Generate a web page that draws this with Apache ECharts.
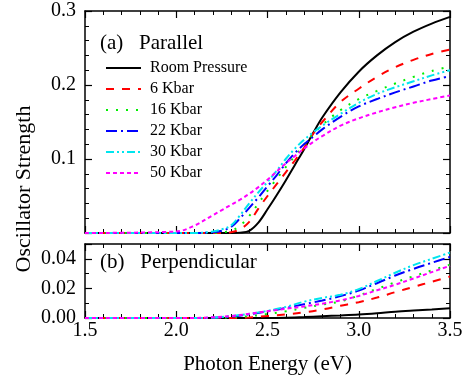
<!DOCTYPE html>
<html>
<head>
<meta charset="utf-8">
<script src="https://cdn.jsdelivr.net/npm/echarts@6/dist/echarts.min.js"></script>
<style>
  html, body { margin: 0; padding: 0; background: #fff; }
  #chart { width: 471px; height: 383px; }
</style>
</head>
<body>
<div id="chart"></div>
<script>
// photon energy grids (eV)
const energyTop = [1.5, 2.0, 2.1, 2.2, 2.25, 2.3, 2.35, 2.4, 2.45, 2.5, 2.55, 2.6, 2.65, 2.7, 2.75, 2.8, 2.9, 3.0, 3.1, 3.2, 3.3, 3.4, 3.5];
const energyBot = [1.5, 2.0, 2.1, 2.2, 2.3, 2.4, 2.5, 2.6, 2.7, 2.8, 2.9, 3.0, 3.1, 3.2, 3.3, 3.4, 3.5];

const seriesNames = ['Room Pressure', '6 Kbar', '16 Kbar', '22 Kbar', '30 Kbar', '50 Kbar'];

// (a) parallel
const parRoom = [0, 0, 0, 0, 0, 0, 0.0005, 0.003, 0.014, 0.032, 0.051, 0.071, 0.092, 0.113, 0.135, 0.156, 0.190, 0.218, 0.240, 0.258, 0.272, 0.283, 0.292];
const par6 = [0, 0, 0, 0, 0, 0.001, 0.005, 0.015, 0.033, 0.050, 0.066, 0.082, 0.098, 0.115, 0.134, 0.150, 0.177, 0.195, 0.211, 0.224, 0.234, 0.242, 0.248];
const par16 = [0, 0, 0, 0, 0.001, 0.003, 0.010, 0.023, 0.040, 0.057, 0.073, 0.089, 0.104, 0.119, 0.133, 0.146, 0.166, 0.181, 0.192, 0.202, 0.211, 0.219, 0.225];
const par22 = [0, 0, 0, 0.001, 0.003, 0.008, 0.020, 0.034, 0.048, 0.063, 0.078, 0.094, 0.108, 0.120, 0.130, 0.140, 0.157, 0.171, 0.181, 0.190, 0.198, 0.206, 0.212];
const par30 = [0, 0, 0, 0.002, 0.005, 0.010, 0.024, 0.040, 0.055, 0.069, 0.084, 0.100, 0.114, 0.126, 0.136, 0.145, 0.161, 0.176, 0.188, 0.197, 0.205, 0.213, 0.220];
const par50 = [0, 0.002, 0.010, 0.024, 0.031, 0.038, 0.045, 0.053, 0.062, 0.072, 0.083, 0.094, 0.104, 0.114, 0.123, 0.131, 0.145, 0.155, 0.163, 0.170, 0.176, 0.181, 0.186];

// (b) perpendicular
const perRoom = [0, 0, 0, 0, 0, 0, 0, 0.0002, 0.0006, 0.0012, 0.0017, 0.0023, 0.0032, 0.0043, 0.0051, 0.0058, 0.0066];
const per6 = [0, 0, 0, 0, 0, 0.0004, 0.0013, 0.0024, 0.0038, 0.0058, 0.0083, 0.0107, 0.0138, 0.0175, 0.0210, 0.0245, 0.0280];
const per16 = [0, 0, 0, 0, 0.0004, 0.0012, 0.0027, 0.0045, 0.0068, 0.0090, 0.0112, 0.0152, 0.0197, 0.0241, 0.0282, 0.0322, 0.0360];
const per22 = [0, 0, 0, 0.0002, 0.0010, 0.0025, 0.0045, 0.0068, 0.0093, 0.0118, 0.0148, 0.0185, 0.0235, 0.0287, 0.0332, 0.0373, 0.0413];
const per30 = [0, 0, 0, 0.0003, 0.0013, 0.0028, 0.0048, 0.0075, 0.0110, 0.0136, 0.0157, 0.0195, 0.0250, 0.0306, 0.0357, 0.0400, 0.0442];
const per50 = [0, 0, 0, 0.0005, 0.0013, 0.0028, 0.0046, 0.0062, 0.0078, 0.0097, 0.0119, 0.0149, 0.0187, 0.0225, 0.0267, 0.0310, 0.0353];

const colors = ['#000000', '#ff0000', '#00ee00', '#0000ff', '#00e5ee', '#ff00ff'];
const dashes = ['solid', [8, 8], [2, 8], [11, 4, 2, 4], [8, 3, 2, 3, 2, 3], [4, 3]];

const chart = echarts.init(document.getElementById('chart'));
const FONT = 'Liberation Serif';

function xAxisFor(gridIndex, position, showLabel, name) {
    return {
        type: 'value', gridIndex: gridIndex, position: position,
        min: 1.5, max: 3.5, interval: 0.5,
        name: name || '', nameLocation: 'middle', nameGap: 36,
        nameTextStyle: { fontFamily: FONT, fontSize: 21, color: '#000' },
        axisLine: { onZero: false, lineStyle: { color: '#000', width: 1.5 } },
        axisTick: { inside: true, length: 7, lineStyle: { color: '#000', width: 1.2 } },
        minorTick: { show: true, splitNumber: 5, length: 4, lineStyle: { color: '#000', width: 1 } },
        splitLine: { show: false },
        axisLabel: { show: showLabel, margin: 3, fontFamily: FONT, fontSize: 20, color: '#000',
            formatter: (v) => v.toFixed(1) }
    };
}

function yAxisFor(gridIndex, position, showLabel, max, interval, minor, digits) {
    return {
        type: 'value', gridIndex: gridIndex, position: position,
        min: 0, max: max, interval: interval,
        axisLine: { onZero: false, lineStyle: { color: '#000', width: 1.5 } },
        axisTick: { inside: true, length: 7, lineStyle: { color: '#000', width: 1.2 } },
        minorTick: { show: true, splitNumber: minor, length: 4, lineStyle: { color: '#000', width: 1 } },
        splitLine: { show: false },
        axisLabel: { show: showLabel, margin: 9, fontFamily: FONT, fontSize: 20, color: '#000',
            showMinLabel: digits === 2, showMaxLabel: digits === 1,
            formatter: (v) => v.toFixed(digits) }
    };
}

const parData = [parRoom, par6, par16, par22, par30, par50];
const perData = [perRoom, per6, per16, per22, per30, per50];

const series = [];
seriesNames.forEach((name, k) => {
    const common = {
        type: 'line', name: name, showSymbol: false, symbol: 'none',
        smooth: 0.35,
        itemStyle: { color: colors[k] },
        lineStyle: { color: colors[k], width: 2, type: dashes[k] }
    };
    series.push(Object.assign({}, common, {
        xAxisIndex: 0, yAxisIndex: 0,
        data: energyTop.map((e, i) => [e, parData[k][i]])
    }));
    series.push(Object.assign({}, common, {
        xAxisIndex: 1, yAxisIndex: 1,
        data: energyBot.map((e, i) => [e, perData[k][i]])
    }));
});

chart.setOption({
    animation: false,
    backgroundColor: '#fff',
    grid: [
        { left: 85, right: 21, top: 11, height: 222 },
        { left: 85, right: 21, top: 244, height: 74 }
    ],
    xAxis: [
        xAxisFor(0, 'bottom', false),
        xAxisFor(1, 'bottom', true, 'Photon Energy (eV)'),
        xAxisFor(0, 'top', false),
        xAxisFor(1, 'top', false)
    ],
    yAxis: [
        yAxisFor(0, 'left', true, 0.3, 0.1, 5, 1),
        yAxisFor(1, 'left', true, 0.05, 0.02, 2, 2),
        yAxisFor(0, 'right', false, 0.3, 0.1, 5, 1),
        yAxisFor(1, 'right', false, 0.05, 0.02, 2, 2)
    ],
    legend: {
        data: seriesNames,
        orient: 'vertical',
        left: 105, top: 60, padding: 0,
        itemWidth: 35, itemHeight: 14, itemGap: 5,
        itemStyle: { opacity: 0 },
        textStyle: { fontFamily: FONT, fontSize: 16, color: '#000', padding: [0, 0, 0, 4] }
    },
    graphic: [
        { type: 'text', x: 24, y: 189, rotation: Math.PI / 2,
          style: { text: 'Oscillator Strength', font: '22px "Liberation Serif"', fill: '#000',
                   textAlign: 'center', textVerticalAlign: 'middle' } },
        { type: 'text', x: 100, y: 43,
          style: { text: '(a)   Parallel', font: '21px "Liberation Serif"', fill: '#000',
                   textAlign: 'left', textVerticalAlign: 'middle' } },
        { type: 'text', x: 100, y: 262,
          style: { text: '(b)   Perpendicular', font: '21px "Liberation Serif"', fill: '#000',
                   textAlign: 'left', textVerticalAlign: 'middle' } }
    ],
    series: series
});
</script>
</body>
</html>
